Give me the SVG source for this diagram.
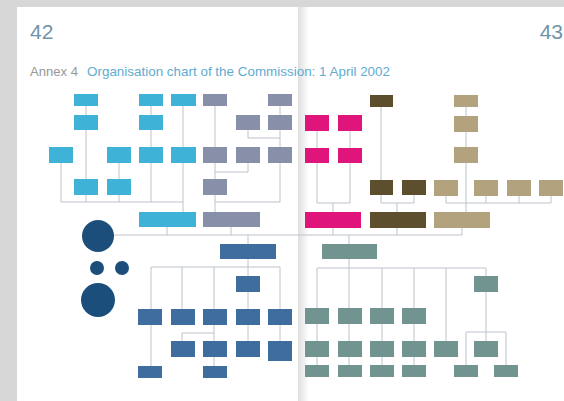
<svg xmlns="http://www.w3.org/2000/svg" width="564" height="401" viewBox="0 0 564 401">
<defs>
<linearGradient id="spine" x1="0" y1="0" x2="1" y2="0">
<stop offset="0" stop-color="#dedede"/>
<stop offset="1" stop-color="#ffffff"/>
</linearGradient>
<style>
.pg{font-family:"Liberation Sans",Arial,sans-serif;font-size:21px;fill:#6f93a9}
.ti{font-family:"Liberation Sans",Arial,sans-serif;font-size:13px}
.c{fill:#3fb2d8}
.g{fill:#8790a8}
.m{fill:#e0157c}
.d{fill:#5d4e2d}
.t{fill:#b2a37e}
.b{fill:#3f6d9e}
.n{fill:#729490}
.o{fill:#1c4e7c}
#connectors line,#connectors polyline{stroke:#bcc3cc;stroke-width:1;fill:none}
</style>
</defs>
<rect x="0" y="0" width="564" height="401" fill="#d7d7d7"/>
<rect x="17" y="7" width="281" height="394" fill="#ffffff"/>
<rect x="298" y="7" width="266" height="394" fill="#ffffff"/>
<rect x="298" y="7" width="11" height="394" fill="url(#spine)"/>
<text class="pg" x="30" y="39">42</text>
<text class="pg" x="563" y="39" text-anchor="end">43</text>
<text class="ti" x="30" y="76" fill="#979797" textLength="48" lengthAdjust="spacingAndGlyphs">Annex 4</text>
<text class="ti" x="87" y="76" fill="#62abcf" textLength="303" lengthAdjust="spacingAndGlyphs">Organisation chart of the Commission: 1 April 2002</text>

<g id="connectors">
<!-- cyan -->
<line x1="86" y1="106" x2="86" y2="115"/>
<line x1="86" y1="130" x2="86" y2="179"/>
<line x1="86" y1="195" x2="86" y2="202"/>
<line x1="61" y1="163" x2="61" y2="202"/>
<line x1="119" y1="163" x2="119" y2="179"/>
<line x1="119" y1="195" x2="119" y2="202"/>
<line x1="151" y1="106" x2="151" y2="115"/>
<line x1="151" y1="130" x2="151" y2="147"/>
<line x1="151" y1="163" x2="151" y2="202"/>
<line x1="183" y1="106" x2="183" y2="147"/>
<line x1="183" y1="163" x2="183" y2="212"/>
<line x1="61" y1="202" x2="183" y2="202"/>
<!-- grey-blue -->
<line x1="215" y1="106" x2="215" y2="147"/>
<line x1="215" y1="163" x2="215" y2="179"/>
<line x1="215" y1="172" x2="248" y2="172"/>
<line x1="248" y1="163" x2="248" y2="172"/>
<line x1="215" y1="195" x2="215" y2="212"/>
<line x1="248" y1="130" x2="248" y2="138"/>
<line x1="248" y1="138" x2="280" y2="138"/>
<line x1="280" y1="106" x2="280" y2="115"/>
<line x1="280" y1="130" x2="280" y2="147"/>
<line x1="280" y1="163" x2="280" y2="202"/>
<line x1="215" y1="202" x2="280" y2="202"/>
<!-- magenta -->
<line x1="317" y1="131" x2="317" y2="148"/>
<line x1="350" y1="131" x2="350" y2="148"/>
<line x1="317" y1="163" x2="317" y2="203"/>
<line x1="350" y1="163" x2="350" y2="203"/>
<line x1="317" y1="203" x2="350" y2="203"/>
<line x1="333" y1="203" x2="333" y2="212"/>
<!-- dark olive -->
<line x1="381" y1="107" x2="381" y2="180"/>
<line x1="381" y1="195" x2="381" y2="203"/>
<line x1="414" y1="195" x2="414" y2="203"/>
<line x1="381" y1="203" x2="414" y2="203"/>
<line x1="397" y1="203" x2="397" y2="212"/>
<!-- tan -->
<line x1="466" y1="107" x2="466" y2="116"/>
<line x1="466" y1="132" x2="466" y2="147"/>
<line x1="466" y1="163" x2="466" y2="212"/>
<line x1="446" y1="196" x2="446" y2="203"/>
<line x1="486" y1="196" x2="486" y2="203"/>
<line x1="519" y1="196" x2="519" y2="203"/>
<line x1="551" y1="196" x2="551" y2="203"/>
<line x1="446" y1="203" x2="551" y2="203"/>
<!-- main line -->
<line x1="114" y1="235" x2="462" y2="235"/>
<line x1="167" y1="227" x2="167" y2="235"/>
<line x1="231" y1="227" x2="231" y2="235"/>
<line x1="333" y1="228" x2="333" y2="235"/>
<line x1="397" y1="228" x2="397" y2="235"/>
<line x1="462" y1="228" x2="462" y2="235"/>
<!-- blue -->
<line x1="248" y1="235" x2="248" y2="244"/>
<line x1="248" y1="259" x2="248" y2="276"/>
<line x1="151" y1="267" x2="280" y2="267"/>
<line x1="151" y1="267" x2="151" y2="309"/>
<line x1="182" y1="267" x2="182" y2="309"/>
<line x1="214" y1="267" x2="214" y2="309"/>
<line x1="248" y1="292" x2="248" y2="309"/>
<line x1="280" y1="267" x2="280" y2="309"/>
<line x1="151" y1="325" x2="151" y2="366"/>
<line x1="214" y1="325" x2="214" y2="341"/>
<line x1="182" y1="333" x2="214" y2="333"/>
<line x1="182" y1="333" x2="182" y2="341"/>
<line x1="214" y1="357" x2="214" y2="366"/>
<line x1="248" y1="325" x2="248" y2="341"/>
<line x1="280" y1="325" x2="280" y2="341"/>
<!-- grey-green -->
<line x1="349" y1="235" x2="349" y2="244"/>
<line x1="349" y1="259" x2="349" y2="268"/>
<line x1="317" y1="268" x2="486" y2="268"/>
<line x1="317" y1="268" x2="317" y2="308"/>
<line x1="349" y1="268" x2="349" y2="308"/>
<line x1="382" y1="268" x2="382" y2="308"/>
<line x1="414" y1="268" x2="414" y2="308"/>
<line x1="446" y1="268" x2="446" y2="341"/>
<line x1="486" y1="268" x2="486" y2="276"/>
<line x1="317" y1="324" x2="317" y2="341"/>
<line x1="349" y1="324" x2="349" y2="341"/>
<line x1="382" y1="324" x2="382" y2="341"/>
<line x1="414" y1="324" x2="414" y2="341"/>
<line x1="317" y1="357" x2="317" y2="365"/>
<line x1="349" y1="357" x2="349" y2="365"/>
<line x1="382" y1="357" x2="382" y2="365"/>
<line x1="414" y1="357" x2="414" y2="365"/>
<line x1="486" y1="292" x2="486" y2="341"/>
<line x1="466" y1="332" x2="506" y2="332"/>
<line x1="466" y1="332" x2="466" y2="365"/>
<line x1="506" y1="332" x2="506" y2="365"/>
</g>

<!-- cyan nodes -->
<g id="c1"><rect class="c" x="74" y="94" width="24" height="12"/></g>
<g id="c2"><rect class="c" x="74" y="115" width="24" height="15"/></g>
<g id="c3"><rect class="c" x="74" y="179" width="24" height="16"/></g>
<g id="c4"><rect class="c" x="49" y="147" width="24" height="16"/></g>
<g id="c5"><rect class="c" x="107" y="147" width="24" height="16"/></g>
<g id="c6"><rect class="c" x="107" y="179" width="24" height="16"/></g>
<g id="c7"><rect class="c" x="139" y="94" width="24" height="12"/></g>
<g id="c8"><rect class="c" x="139" y="115" width="24" height="15"/></g>
<g id="c9"><rect class="c" x="139" y="147" width="24" height="16"/></g>
<g id="c10"><rect class="c" x="171" y="94" width="25" height="12"/></g>
<g id="c11"><rect class="c" x="171" y="147" width="25" height="16"/></g>
<g id="c12"><rect class="c" x="139" y="212" width="57" height="15"/></g>
<!-- grey-blue nodes -->
<g id="g1"><rect class="g" x="203" y="94" width="24" height="12"/></g>
<g id="g2"><rect class="g" x="203" y="147" width="24" height="16"/></g>
<g id="g3"><rect class="g" x="203" y="179" width="24" height="16"/></g>
<g id="g4"><rect class="g" x="236" y="115" width="24" height="15"/></g>
<g id="g5"><rect class="g" x="236" y="147" width="24" height="16"/></g>
<g id="g6"><rect class="g" x="268" y="94" width="24" height="12"/></g>
<g id="g7"><rect class="g" x="268" y="115" width="24" height="15"/></g>
<g id="g8"><rect class="g" x="268" y="147" width="24" height="16"/></g>
<g id="g9"><rect class="g" x="203" y="212" width="57" height="15"/></g>
<!-- magenta nodes -->
<g id="m1"><rect class="m" x="305" y="115" width="24" height="16"/></g>
<g id="m2"><rect class="m" x="338" y="115" width="24" height="16"/></g>
<g id="m3"><rect class="m" x="305" y="148" width="24" height="15"/></g>
<g id="m4"><rect class="m" x="338" y="148" width="24" height="15"/></g>
<g id="m5"><rect class="m" x="305" y="212" width="56" height="16"/></g>
<!-- dark olive nodes -->
<g id="d1"><rect class="d" x="370" y="95" width="23" height="12"/></g>
<g id="d2"><rect class="d" x="370" y="180" width="23" height="15"/></g>
<g id="d3"><rect class="d" x="402" y="180" width="24" height="15"/></g>
<g id="d4"><rect class="d" x="370" y="212" width="56" height="16"/></g>
<!-- tan nodes -->
<g id="t1"><rect class="t" x="454" y="95" width="24" height="12"/></g>
<g id="t2"><rect class="t" x="454" y="116" width="24" height="16"/></g>
<g id="t3"><rect class="t" x="454" y="147" width="24" height="16"/></g>
<g id="t4"><rect class="t" x="434" y="180" width="24" height="16"/></g>
<g id="t5"><rect class="t" x="474" y="180" width="24" height="16"/></g>
<g id="t6"><rect class="t" x="507" y="180" width="24" height="16"/></g>
<g id="t7"><rect class="t" x="539" y="180" width="24" height="16"/></g>
<g id="t8"><rect class="t" x="434" y="212" width="56" height="16"/></g>
<!-- circles -->
<g id="o1"><circle class="o" cx="98" cy="236" r="16"/></g>
<g id="o2"><circle class="o" cx="97" cy="268" r="7"/></g>
<g id="o3"><circle class="o" cx="122" cy="268" r="7"/></g>
<g id="o4"><circle class="o" cx="98" cy="300" r="17"/></g>
<!-- blue nodes -->
<g id="b0"><rect class="b" x="220" y="244" width="56" height="15"/></g>
<g id="b1"><rect class="b" x="236" y="276" width="24" height="16"/></g>
<g id="b2"><rect class="b" x="138" y="309" width="24" height="16"/></g>
<g id="b3"><rect class="b" x="171" y="309" width="24" height="16"/></g>
<g id="b4"><rect class="b" x="203" y="309" width="24" height="16"/></g>
<g id="b5"><rect class="b" x="236" y="309" width="24" height="16"/></g>
<g id="b6"><rect class="b" x="268" y="309" width="24" height="16"/></g>
<g id="b7"><rect class="b" x="171" y="341" width="24" height="16"/></g>
<g id="b8"><rect class="b" x="203" y="341" width="24" height="16"/></g>
<g id="b9"><rect class="b" x="236" y="341" width="24" height="16"/></g>
<g id="b10"><rect class="b" x="268" y="341" width="24" height="20"/></g>
<g id="b11"><rect class="b" x="138" y="366" width="24" height="12"/></g>
<g id="b12"><rect class="b" x="203" y="366" width="24" height="12"/></g>
<!-- grey-green nodes -->
<g id="n0"><rect class="n" x="322" y="244" width="55" height="15"/></g>
<g id="n1"><rect class="n" x="474" y="276" width="24" height="16"/></g>
<g id="n2"><rect class="n" x="305" y="308" width="24" height="16"/></g>
<g id="n3"><rect class="n" x="338" y="308" width="24" height="16"/></g>
<g id="n4"><rect class="n" x="370" y="308" width="24" height="16"/></g>
<g id="n5"><rect class="n" x="402" y="308" width="24" height="16"/></g>
<g id="n6"><rect class="n" x="305" y="341" width="24" height="16"/></g>
<g id="n7"><rect class="n" x="338" y="341" width="24" height="16"/></g>
<g id="n8"><rect class="n" x="370" y="341" width="24" height="16"/></g>
<g id="n9"><rect class="n" x="402" y="341" width="24" height="16"/></g>
<g id="n10"><rect class="n" x="434" y="341" width="24" height="16"/></g>
<g id="n11"><rect class="n" x="474" y="341" width="24" height="16"/></g>
<g id="n12"><rect class="n" x="305" y="365" width="24" height="12"/></g>
<g id="n13"><rect class="n" x="338" y="365" width="24" height="12"/></g>
<g id="n14"><rect class="n" x="370" y="365" width="24" height="12"/></g>
<g id="n15"><rect class="n" x="402" y="365" width="24" height="12"/></g>
<g id="n16"><rect class="n" x="454" y="365" width="24" height="12"/></g>
<g id="n17"><rect class="n" x="494" y="365" width="24" height="12"/></g>
</svg>
